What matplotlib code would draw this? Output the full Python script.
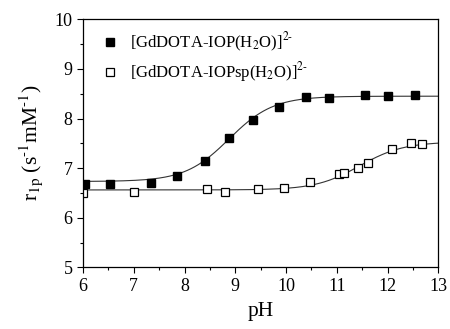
import numpy as np
import matplotlib
matplotlib.use("Agg")
import matplotlib.pyplot as plt
from matplotlib.ticker import MultipleLocator

plt.rcParams['font.family'] = ['Liberation Serif', 'DejaVu Serif']
plt.rcParams['mathtext.fontset'] = 'stix'

# Data
ph_iop = [6.03, 6.53, 7.34, 7.86, 8.40, 8.87, 9.34, 9.87, 10.40, 10.85, 11.55, 12.01, 12.55]
r_iop = [6.68, 6.67, 6.69, 6.84, 7.14, 7.61, 7.98, 8.23, 8.43, 8.41, 8.47, 8.45, 8.47]

ph_iopsp = [6.00, 7.00, 8.45, 8.80, 9.45, 9.96, 10.47, 11.05, 11.15, 11.42, 11.61, 12.08, 12.46, 12.68]
r_iopsp = [6.49, 6.52, 6.57, 6.52, 6.57, 6.59, 6.71, 6.88, 6.91, 7.00, 7.11, 7.38, 7.51, 7.49]

# Fitted sigmoid parameters (low, high, pKa, slope)
fit_iop = (6.73, 8.45, 8.88, 1.0)
fit_iopsp = (6.56, 7.53, 11.45, 1.0)

labels = [r'[GdDOTA-IOP(H$_2$O)]$^{2\text{-}}$', r'[GdDOTA-IOPsp(H$_2$O)]$^{2\text{-}}$']


def sigmoid(x, p):
    lo, hi, pka, n = p
    return lo + (hi - lo) / (1 + 10 ** (n * (pka - x)))


fig = plt.figure(figsize=(4.5, 3.29), dpi=100)
ax = fig.add_axes([0.1844, 0.1875, 0.7896, 0.7538])

xs = np.linspace(6, 13, 300)
ax.plot(xs, sigmoid(xs, fit_iop), color='#333333', lw=0.8)
ax.plot(xs, sigmoid(xs, fit_iopsp), color='#333333', lw=0.8)

ax.plot(ph_iop, r_iop, 's', color='black', ms=5.5, mec='black', label=labels[0])
ax.plot(ph_iopsp, r_iopsp, 's', mfc='white', mec='black', mew=0.9, ms=5.5, label=labels[1])

ax.set_xlim(6, 13)
ax.set_ylim(5, 10)
ax.xaxis.set_major_locator(MultipleLocator(1))
ax.xaxis.set_minor_locator(MultipleLocator(0.5))
ax.yaxis.set_major_locator(MultipleLocator(1))
ax.yaxis.set_minor_locator(MultipleLocator(0.5))
ax.tick_params(which='both', direction='out', top=False, right=False, labelsize=13, width=0.8)
ax.tick_params(which='major', length=4)
ax.tick_params(which='minor', length=2)
for s in ax.spines.values():
    s.set_linewidth(0.9)

ax.set_xlabel('pH', fontsize=15.5, labelpad=5)
ax.set_ylabel(r'r$_{\mathrm{1p}}$ (s$^{\text{-}1}$mM$^{\text{-}1}$)', fontsize=15.5, labelpad=7)

ax.legend(loc='upper left', frameon=False, fontsize=12, handletextpad=0.7,
          labelspacing=0.4, borderpad=0, borderaxespad=0,
          bbox_to_anchor=(0.053, 0.955), handlelength=1.0)

fig.savefig('out.png', dpi=100)
